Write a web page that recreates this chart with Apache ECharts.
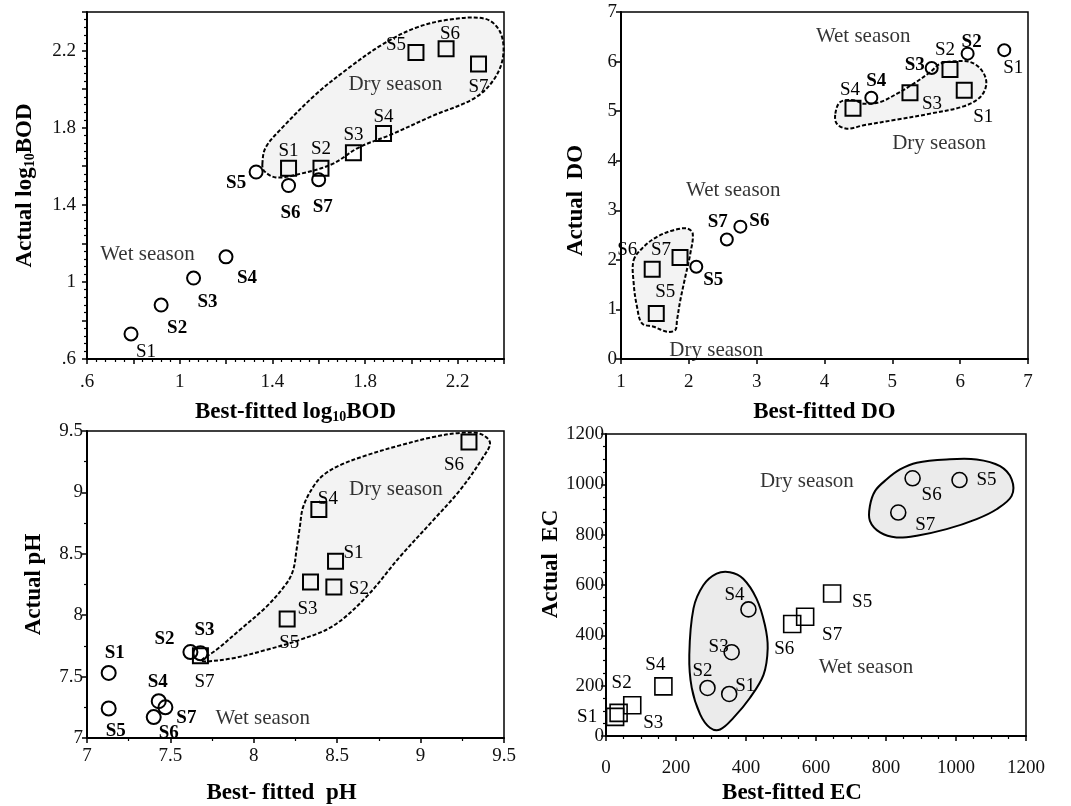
<!DOCTYPE html>
<html><head><meta charset="utf-8">
<script src="https://cdn.jsdelivr.net/npm/echarts@6/dist/echarts.min.js"></script>
<style>html,body{margin:0;padding:0;background:#fff}#c{width:1071px;height:806px}</style>
</head><body><div id="c"></div>
<script>
// ---------- DATA ----------
const sites = ['S1','S2','S3','S4','S5','S6','S7'];

// Panel 1: log10 BOD
const bodWetX = [0.79, 0.92, 1.06, 1.20, 1.33, 1.47, 1.60];
const bodWetY = [0.73, 0.88, 1.02, 1.13, 1.57, 1.50, 1.53];
const bodDryX = [1.47, 1.61, 1.75, 1.88, 2.02, 2.15, 2.29];
const bodDryY = [1.59, 1.59, 1.67, 1.77, 2.19, 2.21, 2.13];
const bodTicks = [0.6, 1.0, 1.4, 1.8, 2.2];
const bodDryHull = [[1.357,1.611],[1.371,1.697],[1.443,1.80],[1.587,1.972],[1.73,2.11],[1.873,2.23],[2.017,2.317],[2.16,2.36],[2.318,2.365],[2.382,2.30],[2.397,2.179],[2.361,2.058],[2.275,1.955],[2.089,1.86],[1.916,1.766],[1.773,1.697],[1.658,1.611],[1.515,1.559],[1.415,1.542],[1.364,1.576]];

// Panel 2: DO
const doWetX = [6.65, 6.11, 5.58, 4.69, 2.11, 2.76, 2.56];
const doWetY = [6.23, 6.16, 5.87, 5.27, 1.86, 2.67, 2.41];
const doDryX = [6.06, 5.85, 5.26, 4.42, 1.52, 1.46, 1.87];
const doDryY = [5.42, 5.84, 5.37, 5.06, 0.92, 1.81, 2.05];
const doXTicks = [1, 2, 3, 4, 5, 6, 7];
const doYTicks = [0, 1, 2, 3, 4, 5, 6, 7];
const doDryHullA = [[4.16,4.95],[4.233,5.185],[4.43,5.22],[4.577,5.15],[4.823,5.185],[5.069,5.353],[5.315,5.554],[5.56,5.79],[5.708,5.957],[5.904,6.004],[6.15,5.99],[6.32,5.82],[6.386,5.554],[6.297,5.285],[6.05,5.097],[5.56,4.95],[5.069,4.83],[4.577,4.715],[4.33,4.647],[4.18,4.748]];
const doDryHullB = [[1.187,1.995],[1.334,2.263],[1.531,2.465],[1.776,2.599],[1.973,2.633],[2.057,2.532],[2.022,2.129],[1.948,1.659],[1.875,1.189],[1.826,0.786],[1.80,0.584],[1.678,0.551],[1.482,0.651],[1.31,0.719],[1.236,1.054],[1.187,1.525]];

// Panel 3: pH
const phWetX = [7.13, 7.62, 7.68, 7.43, 7.13, 7.40, 7.47];
const phWetY = [7.53, 7.70, 7.69, 7.30, 7.24, 7.17, 7.25];
const phDryX = [8.49, 8.48, 8.34, 8.39, 8.20, 9.29, 7.68];
const phDryY = [8.44, 8.23, 8.27, 8.86, 7.97, 9.41, 7.67];
const phTicks = [7, 7.5, 8, 8.5, 9, 9.5];
const phDryHull = [[7.686,7.631],[7.776,7.718],[7.916,7.88],[8.076,8.07],[8.196,8.259],[8.236,8.368],[8.256,8.53],[8.276,8.72],[8.296,8.882],[8.356,9.045],[8.416,9.14],[8.516,9.221],[8.676,9.302],[8.876,9.383],[9.076,9.451],[9.236,9.484],[9.356,9.478],[9.416,9.405],[9.376,9.289],[9.236,9.018],[9.076,8.774],[8.876,8.476],[8.676,8.151],[8.476,7.913],[8.276,7.799],[8.076,7.718],[7.876,7.65],[7.716,7.623]];

// Panel 4: EC
const ecCircX = [352, 290, 359, 407, 1010, 876, 835];
const ecCircY = [167, 191, 333, 503, 1017, 1024, 888];
const ecSqX = [26, 36, 75, 164, 646, 532, 569];
const ecSqY = [76, 92, 122, 197, 566, 445, 474];
const ecTicks = [0, 200, 400, 600, 800, 1000, 1200];
const ecHullDry = [[754,914],[769,974],[802,1020],[840,1059],[888,1086],[973,1099],[1059,1099],[1126,1072],[1159,1020],[1159,954],[1116,901],[1059,862],[973,822],[888,796],[830,789],[783,809],[754,855]];
const ecHullMid = [[238,322],[250,507],[278,599],[316,645],[354,651],[392,625],[430,546],[454,441],[462,349],[450,243],[411,151],[364,72],[326,26],[297,33],[269,86],[245,191]];

// Annotation texts (data-space anchor)
const notes = [
  {g:0, t:'Wet season', x:0.861, y:1.142},
  {g:0, t:'Dry season', x:1.931, y:2.026},
  {g:1, t:'Wet season', x:4.57, y:6.51},
  {g:1, t:'Wet season', x:2.656, y:3.405},
  {g:1, t:'Dry season', x:5.69, y:4.35},
  {g:1, t:'Dry season', x:2.405, y:0.18},
  {g:2, t:'Wet season', x:8.054, y:7.157},
  {g:2, t:'Dry season', x:8.852, y:9.026},
  {g:3, t:'Dry season', x:574, y:1012},
  {g:3, t:'Wet season', x:743, y:274}
];

// ---------- LABEL STYLE (offsets in px, bold flags) ----------
const p1WetOff = [[15,18],[16,23],[14,24],[21,21],[-20,11],[2,28],[4,27]];
const p1DryOff = [[0,-17],[0,-19],[0,-18],[0,-16],[-20,-7],[4,-15],[0,23]];
const p2WetOff = [[9,18],[4,-12],[-17,-3],[5,-17],[17,13],[19,-6],[-9,-17]];
const p2DryOff = [[19,27],[-5,-19],[22,11],[-3,-18],[9,-21],[-25,-19],[-19,-7]];
const p3WetOff = [[6,-20],[-26,-13],[4,-23],[-1,-19],[7,23],[15,16],[21,11]];
const p3DryOff = [[18,-8],[25,2],[-3,27],[9,-11],[2,24],[-15,23],[4,26]];
const p4CircOff = [[16,-8],[-5,-17],[-13,-5],[-14,-14],[27,0],[19,17],[27,12]];
const p4SqOff = [[-28,0],[3,-30],[21,18],[-8,-21],[30,8],[-8,25],[27,18]];
const boldWet12 = [0,1,1,1,1,1,1];
const boldAll = [1,1,1,1,1,1,1];
const boldNone = [0,0,0,0,0,0,0];

const FONT = 'Liberation Serif';

function pts(xs, ys, offs, bolds) {
  return xs.map((x, i) => ({
    value: [x, ys[i]], name: sites[i],
    label: { offset: offs[i], fontWeight: bolds[i] ? 'bold' : 'normal' }
  }));
}
function scat(k, data, symbol, size, bw) {
  return {
    type: 'scatter', xAxisIndex: k, yAxisIndex: k, symbol: symbol, symbolSize: size, z: 3,
    itemStyle: { color: 'rgba(0,0,0,0)', borderColor: '#000', borderWidth: bw, opacity: 1 },
    label: { show: true, position: 'inside', formatter: '{b}', fontFamily: FONT, fontSize: 19, color: '#000' },
    emphasis: { disabled: true }, silent: true,
    data: data
  };
}
function hull(k, pts, dashed, fill) {
  return {
    type: 'custom', xAxisIndex: k, yAxisIndex: k, silent: true, z: 1, clip: false,
    data: [pts[0]],
    renderItem: (params, api) => ({
      type: 'polygon',
      shape: { points: pts.map(p => api.coord(p)), smooth: 0.35 },
      style: { fill: fill, stroke: '#000', lineWidth: 2, lineDash: dashed ? [4, 2] : null }
    })
  };
}
function noteSeries(k) {
  return {
    type: 'scatter', xAxisIndex: k, yAxisIndex: k, symbol: 'rect', symbolSize: 1, z: 4, silent: true,
    itemStyle: { color: 'rgba(0,0,0,0)' },
    label: { show: true, position: 'inside', formatter: '{b}', fontFamily: FONT, fontSize: 21, color: '#000' },
    data: notes.filter(n => n.g === k).map(n => ({ name: n.t, value: [n.x, n.y] }))
  };
}
const titleRich = {
  b: { fontFamily: FONT, fontWeight: 'bold', fontSize: 23, color: '#000' },
  s: { fontFamily: FONT, fontWeight: 'bold', fontSize: 14, color: '#000', verticalAlign: 'bottom', lineHeight: 14 }
};
function fmt(v) { return String(+v.toFixed(2)).replace(/^0\./, '.'); }
function axis(o) {
  return {
    type: 'value', gridIndex: o.g, min: o.min, max: o.max, interval: o.interval,
    name: o.name, nameLocation: 'middle', nameGap: o.gap, nameRotate: o.rot || 0,
    nameTextStyle: { fontFamily: FONT, fontWeight: 'bold', fontSize: 23, color: '#000', rich: titleRich, padding: o.pad || 0 },
    axisLine: { show: true, onZero: false, lineStyle: { color: '#000', width: 2 } },
    axisTick: { show: true, inside: false, length: 5, lineStyle: { color: '#000', width: 1.5 } },
    minorTick: { show: !!o.minor, splitNumber: o.minor || 5, length: 3, lineStyle: { color: '#000', width: 1.2 } },
    axisLabel: { customValues: o.labels, formatter: fmt, fontFamily: FONT, fontSize: 19, color: '#111', margin: o.margin, showMinLabel: true, showMaxLabel: true },
    splitLine: { show: false }, minorSplitLine: { show: false }
  };
}

const chart = echarts.init(document.getElementById('c'), null, { renderer: 'canvas' });
const gridBase = { show: true, borderColor: '#000', borderWidth: 1.5, backgroundColor: '#fff', containLabel: false };
chart.setOption({
  backgroundColor: '#fff',
  animation: false,
  grid: [
    Object.assign({ left: 87, top: 12, width: 417, height: 347 }, gridBase),
    Object.assign({ left: 621, top: 12, width: 407, height: 347 }, gridBase),
    Object.assign({ left: 87, top: 431, width: 417, height: 307 }, gridBase),
    Object.assign({ left: 606, top: 434, width: 420, height: 304 }, gridBase)
  ],
  xAxis: [
    axis({ g: 0, min: 0.6, max: 2.4, interval: 0.2, labels: bodTicks, minor: 5, margin: 14, gap: 42, name: '{b|Best-fitted log}{s|10}{b|BOD}' }),
    axis({ g: 1, min: 1, max: 7, interval: 1, labels: doXTicks, margin: 14, gap: 42, name: 'Best-fitted DO' }),
    axis({ g: 2, min: 7, max: 9.5, interval: 0.5, labels: phTicks, minor: 2, margin: 9, gap: 44, name: 'Best- fitted  pH', pad: [0, 28, 0, 0] }),
    axis({ g: 3, min: 0, max: 1200, interval: 200, labels: ecTicks, minor: 4, margin: 23, gap: 46, name: 'Best-fitted EC', pad: [0, 48, 0, 0] })
  ],
  yAxis: [
    axis({ g: 0, min: 0.6, max: 2.4, interval: 0.2, labels: bodTicks, minor: 5, margin: 11, gap: 50, rot: 90, name: '{b|Actual log}{s|10}{b|BOD}' }),
    axis({ g: 1, min: 0, max: 7, interval: 1, labels: doYTicks, margin: 4, gap: 33, rot: 90, name: 'Actual  DO', pad: [0, 30, 0, 0] }),
    axis({ g: 2, min: 7, max: 9.5, interval: 0.5, labels: phTicks, minor: 2, margin: 4, gap: 41, rot: 90, name: 'Actual pH' }),
    axis({ g: 3, min: 0, max: 1200, interval: 200, labels: ecTicks, minor: 4, margin: 2, gap: 42, rot: 90, name: 'Actual  EC', pad: [0, 0, 0, 42] })
  ],
  series: [
    hull(0, bodDryHull, true, '#f3f3f3'),
    scat(0, pts(bodWetX, bodWetY, p1WetOff, boldWet12), 'circle', 13, 2),
    scat(0, pts(bodDryX, bodDryY, p1DryOff, boldNone), 'rect', 15, 2),
    noteSeries(0),

    hull(1, doDryHullA, true, '#f3f3f3'),
    hull(1, doDryHullB, true, '#f3f3f3'),
    scat(1, pts(doWetX, doWetY, p2WetOff, boldWet12), 'circle', 12, 2),
    scat(1, pts(doDryX, doDryY, p2DryOff, boldNone), 'rect', 15, 2),
    noteSeries(1),

    hull(2, phDryHull, true, '#f3f3f3'),
    scat(2, pts(phWetX, phWetY, p3WetOff, boldAll), 'circle', 14, 2),
    scat(2, pts(phDryX, phDryY, p3DryOff, boldNone), 'rect', 15, 2),
    noteSeries(2),

    hull(3, ecHullDry, false, '#ebebeb'),
    hull(3, ecHullMid, false, '#ebebeb'),
    scat(3, pts(ecCircX, ecCircY, p4CircOff, boldNone), 'circle', 15, 1.6),
    scat(3, pts(ecSqX, ecSqY, p4SqOff, boldNone), 'rect', 17, 1.6),
    noteSeries(3)
  ]
});
</script></body></html>
